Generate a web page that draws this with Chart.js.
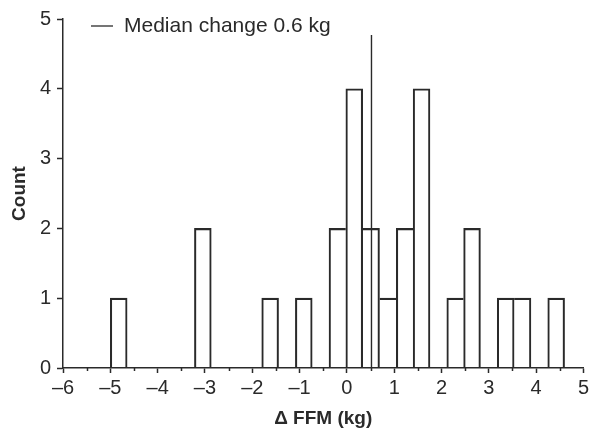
<!DOCTYPE html>
<html>
<head>
<meta charset="utf-8">
<script src="https://cdn.jsdelivr.net/npm/chart.js@4/dist/chart.umd.min.js"></script>
<style>
  html, body { margin: 0; padding: 0; background: #fff; }
  #wrap { width: 592px; height: 433px; }
</style>
</head>
<body>
<div id="wrap"><canvas id="myChart"></canvas></div>
<script>
// histogram bins: first edge and width (kg)
const binStart = -5.0;
const binWidth = 0.3556;
// counts per bin
const counts = [1, 0, 0, 0, 0, 2, 0, 0, 0, 1, 0, 1, 0, 2, 4, 2, 1, 2, 4, 0, 1, 2, 0, 1, 1, 0, 1];
// median marker
const medianX = 0.52;
const medianTop = 4.77;
const medianLabel = 'Median change 0.6 kg';

const ink = '#2a2a2a';
const lw = 1.4;
Chart.defaults.font.family = "'Liberation Sans', Arial, sans-serif";
Chart.defaults.color = ink;

const barData = counts.map(function (c, i) {
    return { x: binStart + (i + 0.5) * binWidth, y: c === 0 ? null : c };
});

function isMinor(v) {
    return Math.abs(v - Math.round(v)) > 1e-6;
}

// shared edges between neighbouring bins are drawn once, by the taller bin
function barBorder(c) {
    const i = c.dataIndex;
    const h = counts[i] || 0;
    const prev = counts[i - 1] || 0;
    const next = counts[i + 1] || 0;
    return { top: lw, bottom: 0, left: h > prev ? lw : 0, right: h >= next ? lw : 0 };
}

// half-unit ticks on the x axis are shorter
const minorTicks = {
    id: 'minorTicks',
    afterDraw(chart) {
        const xs = chart.scales.x;
        const c = chart.ctx;
        c.save();
        c.strokeStyle = ink;
        c.lineWidth = 1.5;
        xs.ticks.forEach(function (t) {
            if (!isMinor(t.value)) return;
            const px = Math.round(xs.getPixelForValue(t.value)) + 0.5;
            c.beginPath();
            c.moveTo(px, xs.top);
            c.lineTo(px, xs.top + 3);
            c.stroke();
        });
        c.restore();
    }
};

// legend sitting inside the plot, top left
const medianLegend = {
    id: 'medianLegend',
    afterDraw(chart) {
        const a = chart.chartArea;
        const c = chart.ctx;
        const y = a.top + 7;
        c.save();
        c.strokeStyle = ink;
        c.lineWidth = 1.3;
        c.beginPath();
        c.moveTo(a.left + 28, y);
        c.lineTo(a.left + 50, y);
        c.stroke();
        c.fillStyle = ink;
        c.font = "21px 'Liberation Sans', Arial, sans-serif";
        c.textBaseline = 'middle';
        c.fillText(medianLabel, a.left + 61, y);
        c.restore();
    }
};

const ctx = document.getElementById('myChart');
const myChart = new Chart(ctx, {
    data: {
        datasets: [{
            type: 'bar',
            label: 'Count',
            data: barData,
            backgroundColor: 'rgba(255,255,255,0)',
            borderColor: ink,
            borderWidth: barBorder,
            borderSkipped: false,
            barPercentage: 1,
            categoryPercentage: 1
        }, {
            type: 'line',
            label: medianLabel,
            data: [{ x: medianX, y: 0 }, { x: medianX, y: medianTop }],
            borderColor: ink,
            borderWidth: lw,
            pointRadius: 0,
            fill: false
        }]
    },
    options: {
        responsive: true,
        maintainAspectRatio: false,
        animation: false,
        layout: { padding: { top: 19, right: 6, left: 0, bottom: 0 } },
        plugins: {
            legend: { display: false },
            tooltip: { enabled: false }
        },
        scales: {
            x: {
                type: 'linear',
                min: -6,
                max: 5,
                offset: false,
                afterFit: function (s) { s.height = 65; },
                border: { color: ink, width: 1.5 },
                grid: {
                    offset: false,
                    drawOnChartArea: false,
                    tickLength: 5,
                    tickWidth: 1.5,
                    tickColor: function (c) {
                        return (c.tick && isMinor(c.tick.value)) ? 'rgba(0,0,0,0)' : ink;
                    }
                },
                ticks: {
                    stepSize: 0.5,
                    autoSkip: false,
                    maxRotation: 0,
                    padding: 3,
                    color: ink,
                    font: { size: 20 },
                    callback: function (v) {
                        if (isMinor(v)) return '';
                        return v < 0 ? '\u2013' + Math.abs(v) : String(v);
                    }
                },
                title: {
                    display: true,
                    text: '\u0394 FFM (kg)',
                    color: ink,
                    font: { size: 19, weight: 'bold' },
                    padding: { top: 0, bottom: 3 }
                }
            },
            y: {
                min: 0,
                max: 5,
                afterFit: function (s) { s.width = 63; },
                border: { color: ink, width: 1.5 },
                grid: {
                    drawOnChartArea: false,
                    tickLength: 6,
                    tickWidth: 1.5,
                    tickColor: ink
                },
                ticks: {
                    stepSize: 1,
                    padding: 6,
                    color: ink,
                    font: { size: 20 }
                },
                title: {
                    display: true,
                    text: 'Count',
                    color: ink,
                    font: { size: 19, weight: 'bold' },
                    padding: { top: 8, bottom: 0 }
                }
            }
        }
    },
    plugins: [minorTicks, medianLegend]
});
</script>
</body>
</html>
